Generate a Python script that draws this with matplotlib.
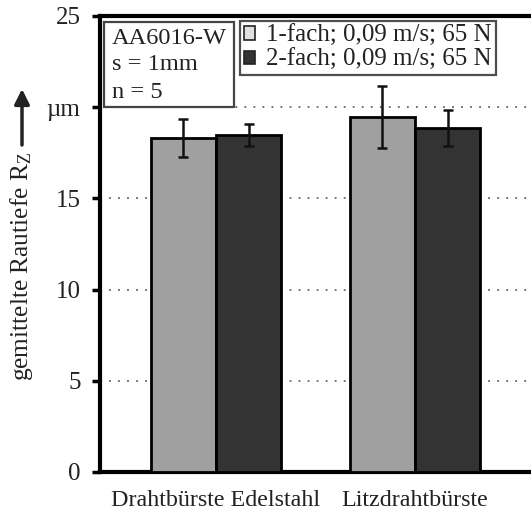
import matplotlib
matplotlib.use("Agg")
import matplotlib.pyplot as plt
from matplotlib.patches import Patch, Rectangle
import numpy as np

plt.rcParams['font.family'] = ['Liberation Serif', 'DejaVu Serif']
plt.rcParams['mathtext.fontset'] = 'custom'
plt.rcParams['mathtext.rm'] = 'Liberation Serif'
plt.rcParams['mathtext.it'] = 'Liberation Serif'

# Data
categories = ["Drahtbürste Edelstahl", "Litzdrahtbürste"]
series_names = ["1-fach; 0,09 m/s; 65 N", "2-fach; 0,09 m/s; 65 N"]
rz_einfach = [18.3, 19.45]
err_einfach = [1.05, 1.7]
rz_zweifach = [18.5, 18.85]
err_zweifach = [0.6, 1.0]
yticks = [0, 5, 10, 15, 20, 25]
ytick_labels = ["0", "5", "10", "15", "µm", "25"]
info_lines = ["AA6016-W", "s = 1mm", "n = 5"]

light = "#a0a0a0"
dark = "#333333"
txt = "#222222"
fs = 18

W, H = 531, 512
fig = plt.figure(figsize=(W / 100, H / 100), dpi=100)
ax = fig.add_axes([100 / W, 1 - 472 / H, 1 - 100 / W + 0.01, (472 - 16) / H])


def fx(px):
    return px / W


def fy(py):
    return 1 - py / H


x = np.arange(len(categories))
w = 0.327
ax.bar(x - w / 2, rz_einfach, w, color=light, edgecolor="black", linewidth=2, zorder=3)
ax.bar(x + w / 2, rz_zweifach, w, color=dark, edgecolor="black", linewidth=2, zorder=3)
ax.errorbar(x - w / 2, rz_einfach, yerr=err_einfach, fmt="none", ecolor="#111111",
            elinewidth=1.8, capsize=3.5, capthick=1.8, zorder=4)
ax.errorbar(x + w / 2, rz_zweifach, yerr=err_zweifach, fmt="none", ecolor="#111111",
            elinewidth=1.8, capsize=3.5, capthick=1.8, zorder=4)

ax.set_xlim(-0.583, 1.583 + 0.01 * W / 199)
ax.set_ylim(0, 25)
ax.set_yticks(yticks)
ax.set_yticklabels(ytick_labels, fontsize=fs)
ax.set_xticks(x)
ax.set_xticklabels(categories, fontsize=17.3, color=txt)
ax.tick_params(axis="x", length=0, pad=13)
ax.tick_params(axis="y", direction="out", length=6, width=2.5, pad=8, labelcolor=txt)

for yv in yticks[1:-1]:
    ax.axhline(yv, color="#666666", linestyle=(0, (1, 4)), linewidth=1.3, zorder=1)

for side in ["left", "bottom", "top"]:
    ax.spines[side].set_linewidth(3)
ax.spines["right"].set_visible(False)

# Info box
fig.patches.append(Rectangle((fx(104), fy(107)), fx(234) - fx(104), fy(22) - fy(107),
                             transform=fig.transFigure, facecolor="white",
                             edgecolor="#444444", linewidth=1.6, zorder=5))
for i, line in enumerate(info_lines):
    fig.text(fx(111.5), fy(38 + 27 * i), line, fontsize=17.6, va="center", ha="left",
             color=txt, zorder=6)

# Legend
handles = [Patch(facecolor="#e0e0e0", edgecolor=txt, linewidth=1.2),
           Patch(facecolor=dark, edgecolor=txt, linewidth=1.2)]
leg = ax.legend(handles, series_names, loc="upper left",
                bbox_to_anchor=(fx(240), fy(21)), bbox_transform=fig.transFigure,
                fontsize=fs, frameon=True, fancybox=False, handlelength=0.45, handleheight=0.45,
                handletextpad=0.45, borderpad=0.15, labelspacing=0.1, borderaxespad=0)
leg.get_frame().set_edgecolor(txt)
leg.get_frame().set_linewidth(1.6)
for t in leg.get_texts():
    t.set_color(txt)

# Y-axis label with upward arrow
fig.text(fx(22), fy(266), "gemittelte Rautiefe R$_\\mathrm{Z}$", rotation=90,
         fontsize=18.3, ha="center", va="center", color=txt)
ax.annotate("", xy=(fx(22), fy(89)), xytext=(fx(22), fy(145)),
            xycoords="figure fraction", textcoords="figure fraction",
            arrowprops=dict(arrowstyle="-|>,head_length=0.9,head_width=0.45",
                            color=txt, linewidth=2.5, shrinkA=0, shrinkB=0))

fig.savefig("out.png", dpi=100)
